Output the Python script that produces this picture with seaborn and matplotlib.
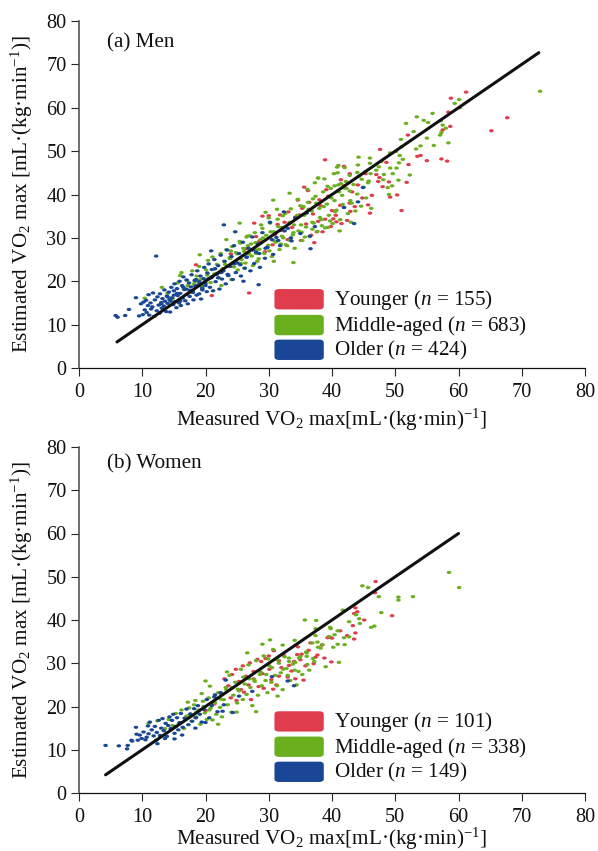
import matplotlib
matplotlib.use('Agg')
import matplotlib.pyplot as plt
import matplotlib.path as mpath
import matplotlib.transforms as mtrans
from matplotlib.patches import FancyBboxPatch
import pandas as pd
import seaborn as sns


# values, one list per age group and panel
men_younger_x = [38.9,26.9,21.0,18.5,34.6,29.0,30.0,27.7,31.8,32.5,
    33.1,33.7,34.2,31.0,31.4,32.0,35.3,35.9,36.4,37.0,
    37.6,38.2,38.9,39.4,40.0,40.7,41.3,41.9,42.8,45.3,
    47.0,47.5,47.3,49.0,51.8,41.4,44.1,48.0,50.3,49.2,
    46.3,51.0,45.7,46.0,42.4,41.5,38.5,42.9,61.2,58.8,
    58.4,67.7,65.2,58.7,57.5,52.0,47.6,54.0,53.5,55.0,
    57.3,58.2,48.6,52.1,41.9,42.8,28.5,29.4,30.6,33.0,
    24.0,25.2,26.4,22.8,36.7,39.8,37.2,35.1,40.6,43.2,
    39.1,36.2,34.9,38.0,40.2,44.8,37.8,43.6,35.6,28.0]
men_younger_y = [48.0,17.3,16.7,23.8,38.7,35.0,35.1,33.4,35.3,33.6,
    36.0,32.4,34.8,30.8,33.1,31.7,36.8,33.2,38.2,35.5,
    31.4,37.4,34.3,39.6,36.3,33.7,37.5,46.5,44.8,44.8,
    44.6,43.9,43.0,42.9,42.8,43.4,42.2,41.8,39.9,39.4,
    39.8,36.3,37.6,35.7,34.0,33.3,31.4,36.1,63.6,62.2,
    59.0,57.7,54.7,55.7,54.9,53.7,50.4,49.0,48.8,47.8,
    48.2,47.7,47.4,46.9,42.0,38.0,29.2,26.8,28.4,29.6,
    26.3,24.2,27.5,22.4,30.6,32.6,28.9,29.4,35.2,40.6,
    41.1,40.9,35.3,38.8,34.4,39.2,33.8,37.2,41.7,30.3]

men_middle_x = [10.4,13.1,16.2,19.1,23.3,25.4,30.7,33.3,37.8,33.9,
    30.8,14.0,14.8,15.6,16.0,16.6,17.1,17.5,17.9,18.2,
    18.6,19.0,19.4,19.8,20.1,20.4,20.8,21.1,21.4,21.8,
    22.1,22.4,22.7,23.0,23.3,23.6,23.9,24.2,24.5,24.8,
    25.1,25.4,25.7,26.0,26.3,26.6,26.9,27.2,27.5,27.8,
    28.1,28.4,28.7,29.0,29.3,29.6,29.9,30.2,30.5,30.8,
    31.1,31.4,31.7,32.0,32.3,32.6,32.9,33.2,33.5,33.8,
    34.1,34.4,34.7,35.0,35.3,35.6,35.9,36.2,36.5,36.8,
    37.1,37.4,37.7,38.0,38.3,38.6,38.9,39.2,39.5,39.8,
    40.1,40.4,40.7,41.0,41.3,41.6,41.9,42.2,42.5,42.8,
    43.1,43.4,43.7,44.0,44.3,44.6,45.0,45.4,45.8,46.2,
    72.9,60.1,59.4,60.2,55.9,53.4,54.5,55.2,51.7,57.2,
    57.5,58.0,57.3,57.1,52.9,50.9,55.0,58.4,56.1,54.0,
    53.3,51.0,50.1,49.2,50.7,51.2,50.6,50.2,49.2,49.6,
    52.3,50.5,49.5,48.8,49.0,44.2,46.0,44.1,46.0,47.4,
    47.8,41.0,42.0,40.8,40.3,40.9,42.8,44.0,45.3,46.1,
    47.0,48.2,48.1,45.7,44.7,37.8,38.8,39.3,41.4,41.9,
    40.4,22.5,24.1,26.2,28.2,30.1,31.9,33.4,35.2,36.9,
    38.4,39.7,27.0,29.5,31.3,34.6,36.1,37.3,43.0,41.2,
    21.5,22.3,23.1,23.8,24.4,25.0,25.6,26.1,26.7,27.3,
    27.9,28.5,29.1,29.7,30.3,30.9,31.5,32.1,32.7,33.3,
    33.9,34.5,35.1,35.7,36.3,36.9,37.5,38.1,38.7,39.3,
    39.9,40.5,41.1,41.7,42.3,42.9,20.3,19.2,18.3,17.2,
    24.0,26.5,28.8,30.0,32.2,34.0,35.5,37.0,28.0,25.5]
men_middle_y = [16.1,18.6,22.0,26.1,29.6,33.4,38.7,40.3,43.8,24.3,
    24.6,17.2,16.0,19.6,21.3,18.1,20.2,17.4,22.4,19.3,
    21.2,23.4,18.8,20.5,22.6,24.8,19.7,25.6,21.7,23.9,
    20.8,26.4,22.9,24.6,27.3,21.4,25.2,28.0,23.3,26.6,
    22.6,29.2,25.0,27.6,24.2,30.4,26.3,28.6,23.6,31.2,
    27.2,25.2,29.6,32.2,26.4,30.6,28.3,33.4,25.7,31.4,
    29.0,34.3,27.3,32.4,30.0,35.6,28.2,33.2,36.7,30.7,
    27.6,34.6,31.6,37.4,29.4,35.2,32.5,38.2,30.3,36.2,
    33.4,39.6,31.5,36.8,34.2,40.6,32.3,37.8,35.2,41.4,
    33.3,38.6,36.4,42.2,34.2,39.8,37.0,43.0,35.6,40.8,
    38.0,42.3,36.2,40.1,44.2,37.3,41.7,39.2,43.1,36.8,
    63.8,61.9,61.0,60.0,58.7,57.9,57.1,56.6,56.4,57.0,
    56.0,55.3,54.3,53.7,54.5,52.7,53.0,51.9,51.3,51.2,
    50.5,51.0,49.9,49.6,49.0,48.1,47.3,46.1,46.1,44.8,
    44.5,43.3,42.0,41.6,40.0,48.6,48.4,46.8,47.2,46.4,
    47.6,46.7,46.2,46.3,44.8,45.0,44.4,45.1,45.3,44.8,
    45.6,44.6,43.4,42.7,43.5,43.8,43.6,41.9,42.5,41.5,
    42.0,19.0,20.4,23.0,24.6,27.0,28.6,29.4,31.3,32.0,
    32.8,33.9,30.5,35.9,36.6,38.9,41.2,42.7,33.6,31.6,
    22.8,22.0,23.9,25.4,24.3,26.3,24.1,26.9,28.2,25.8,
    28.9,27.4,30.0,27.8,31.4,29.3,32.6,30.4,28.4,33.6,
    31.2,35.2,33.0,30.2,36.6,33.6,38.0,34.7,37.2,32.4,
    39.2,36.0,40.6,37.7,41.4,38.6,21.4,20.4,19.9,19.0,
    27.0,30.2,33.0,34.6,35.1,33.0,37.2,39.0,26.4,28.8]

men_older_x = [5.8,6.1,7.3,7.9,9.0,9.5,9.8,10.1,10.2,10.4,
    10.6,10.7,10.9,11.0,11.1,11.3,11.4,11.6,11.7,11.9,
    12.0,12.2,12.3,12.4,12.6,12.7,12.8,13.0,13.1,13.2,
    13.4,13.5,13.6,13.8,13.9,14.0,14.2,14.3,14.4,14.6,
    14.7,14.9,15.0,15.1,15.2,15.4,15.5,15.6,15.8,15.9,
    16.0,16.1,16.3,16.4,16.5,16.7,16.8,17.0,17.1,17.2,
    17.4,17.5,17.7,17.8,18.0,18.1,18.3,18.4,18.6,18.7,
    18.9,19.0,19.2,19.3,19.5,19.7,19.8,20.0,20.2,20.3,
    20.5,20.7,20.9,21.0,21.2,21.4,21.6,21.8,22.0,22.2,
    22.4,22.6,22.8,23.0,23.2,23.4,23.6,23.9,24.1,24.3,
    24.5,24.8,25.0,25.3,25.6,25.9,26.2,26.5,26.8,27.1,
    27.4,27.7,28.0,28.3,28.6,29.0,29.4,29.8,30.2,30.7,
    31.2,31.8,32.4,33.0,33.6,34.2,35.0,36.0,36.6,37.3,
    36.5,41.9,43.5,44.1,44.9,28.4,26.0,24.7,22.9,20.9,
    13.0,14.0,15.0,16.0,17.0,18.0,19.0,20.0,21.0,22.0,
    14.5,15.5,16.5,17.5,18.5,19.5,20.5,21.5,22.5,23.5,
    24.5,25.5,26.5,27.5,28.5,29.5,30.5,31.5,32.5,33.5]
men_older_y = [12.1,11.7,12.1,13.5,16.2,12.0,14.8,12.3,15.2,13.4,
    15.6,12.8,14.4,16.9,12.2,15.0,13.6,14.1,17.3,11.9,
    15.7,25.8,13.2,16.4,14.5,12.6,17.1,15.1,13.8,16.0,
    14.3,18.0,15.4,13.0,16.6,14.9,17.5,15.8,12.9,18.6,
    16.2,14.6,17.8,19.4,15.3,13.9,18.3,16.7,15.0,20.0,
    17.2,14.4,19.0,16.1,21.0,18.1,15.5,20.3,17.0,14.8,
    19.6,16.5,18.7,21.5,17.4,15.7,20.2,18.9,16.8,22.4,
    19.2,17.1,21.2,15.9,18.4,20.6,23.2,19.5,17.6,21.9,
    24.0,18.6,20.8,22.7,17.8,25.0,19.9,21.6,23.6,18.2,
    26.0,20.5,22.4,24.6,19.4,27.2,21.3,23.4,25.7,20.4,
    28.2,22.0,24.2,26.4,21.2,29.0,23.0,25.5,27.6,22.4,
    30.2,24.1,26.7,28.6,23.2,31.2,25.3,27.8,33.6,26.2,
    30.1,28.2,36.0,32.2,29.3,34.6,31.0,35.7,27.5,32.6,
    30.4,37.0,33.3,38.3,41.6,19.2,20.0,31.4,33.0,27.0,
    14.8,16.4,16.8,15.4,18.2,17.8,19.9,19.0,21.0,20.8,
    15.4,17.2,18.6,17.9,20.4,18.0,20.6,22.9,22.0,21.6,
    24.0,23.8,25.6,27.2,26.4,27.6,29.6,29.4,31.6,30.0]

women_younger_x = [46.9,43.7,44.0,43.5,46.8,45.1,49.5,43.3,43.7,43.5,
    36.6,39.9,39.7,39.3,40.0,34.6,35.2,34.5,37.7,37.1,
    35.5,33.0,32.4,31.6,30.8,30.1,29.5,28.8,28.2,27.6,
    27.0,26.4,25.9,25.3,24.8,24.2,23.6,23.0,22.5,29.2,
    30.4,31.2,32.0,33.6,34.0,35.8,36.3,37.4,38.4,41.3,
    26.1,26.8,27.6,28.4,29.0,30.0,24.9,25.6,31.6,33.2,
    34.2,18.4,20.0,21.4,35.0,38.8,42.4,24.0,27.2,30.7]
women_younger_y = [48.9,42.8,41.9,41.5,46.3,40.0,41.0,38.7,37.0,35.6,
    34.7,30.3,36.0,35.9,35.8,33.8,32.1,32.0,31.9,29.9,
    26.1,26.8,31.8,30.6,32.9,28.6,31.1,30.4,30.9,28.1,
    30.1,27.0,29.4,25.8,28.6,27.4,24.8,26.4,22.9,24.2,
    26.2,25.0,29.0,28.2,30.4,29.4,33.0,31.4,34.2,37.5,
    23.3,25.0,26.4,24.6,27.6,31.7,21.4,23.9,27.0,29.5,
    26.4,17.4,19.0,20.6,30.8,31.2,36.4,22.0,21.6,24.0]

women_middle_x = [58.5,60.1,44.8,45.7,47.4,50.5,50.5,52.8,35.7,37.5,
    41.7,47.8,42.7,43.8,44.3,44.4,46.7,46.2,39.7,39.8,
    37.4,37.4,40.9,40.4,39.5,41.9,42.7,37.7,36.9,34.1,
    40.9,42.0,40.2,38.5,37.8,29.0,32.2,36.0,36.0,33.2,
    37.0,36.1,34.2,41.1,34.7,33.0,29.9,11.0,12.4,13.6,
    14.2,14.8,15.3,15.8,16.2,16.6,17.0,17.4,17.8,18.2,
    18.5,18.9,19.2,19.6,19.9,20.2,20.5,20.8,21.1,21.4,
    21.7,22.0,22.3,22.6,22.9,23.2,23.5,23.8,24.1,24.4,
    24.7,25.0,25.3,25.6,25.9,26.2,26.5,26.8,27.1,27.4,
    27.7,28.0,28.3,28.6,28.9,29.2,29.5,29.8,30.1,30.4,
    30.7,31.0,31.3,31.6,31.9,32.2,32.5,32.8,33.4,33.8,
    34.4,34.8,35.3,35.9,36.4,37.2,38.2,39.0,24.9,22.0,
    18.4,19.4,20.7,26.6,28.0,30.2,31.4,20.0,17.2,23.4,
    17.5,18.6,19.7,20.6,21.5,22.4,23.3,24.2,25.1,26.0,
    26.9,27.8,28.7,29.6,30.5,31.4,32.3,33.2,34.1,35.0]
women_middle_y = [51.0,47.5,47.9,47.5,45.4,45.3,44.6,45.4,40.0,39.9,
    42.3,41.7,39.6,41.2,40.3,39.2,38.6,38.3,38.3,38.0,
    38.0,36.4,37.5,36.6,36.2,35.9,36.1,34.9,34.7,35.3,
    34.4,34.3,33.7,34.3,33.7,34.4,34.2,32.4,31.6,31.2,
    31.1,29.7,30.2,30.2,28.1,27.2,31.0,16.1,16.7,14.9,
    17.0,15.6,18.4,16.0,19.2,14.9,17.8,19.7,16.6,20.4,
    17.6,19.2,15.9,21.2,18.5,17.0,22.0,19.6,16.9,20.9,
    18.2,23.2,19.8,17.6,21.6,24.4,20.4,27.2,18.7,22.6,
    25.6,20.8,23.6,28.6,21.6,25.2,22.8,29.6,24.4,20.2,
    26.2,30.6,22.6,27.4,24.8,31.7,26.0,23.2,29.4,25.6,
    33.2,27.2,24.8,30.0,27.8,23.9,31.5,28.8,26.0,29.8,
    25.0,31.2,27.4,32.6,28.4,30.4,33.5,29.2,18.7,15.9,
    21.4,23.0,24.7,32.4,18.8,35.4,22.4,25.9,21.0,28.0,
    18.0,18.7,20.0,19.2,20.9,21.7,23.9,24.4,24.0,26.8,
    26.4,25.8,28.0,27.4,29.0,30.8,28.6,30.4,28.4,31.6]

women_older_x = [4.2,6.3,7.7,7.6,8.3,8.4,9.3,10.5,9.0,9.1,
    10.9,12.4,12.2,13.6,15.1,16.3,18.4,20.0,24.3,22.7,
    22.9,25.3,27.4,23.2,30.5,21.5,9.6,9.9,10.2,10.7,
    11.0,11.2,11.5,11.8,12.0,12.3,12.6,12.8,13.0,13.2,
    13.4,13.7,13.9,14.1,14.3,14.5,14.7,14.9,15.1,15.3,
    15.5,15.7,15.9,16.1,16.4,16.7,17.0,17.3,17.6,17.9,
    18.2,18.5,18.8,19.1,19.4,19.8,20.2,20.6,21.0,21.4,
    21.9,22.4,34.0,33.0]
women_older_y = [11.0,10.9,11.0,10.2,12.2,12.0,12.2,12.3,15.2,13.6,
    15.5,11.4,12.2,12.6,12.5,13.4,15.0,16.3,18.6,18.9,
    20.4,22.4,23.5,26.1,26.9,22.7,13.4,12.6,14.1,12.9,
    13.7,16.4,14.6,13.2,15.4,14.0,16.8,13.3,15.0,17.2,
    14.4,16.1,13.1,15.6,17.6,14.9,16.8,18.2,13.8,15.4,
    17.4,14.6,16.3,18.4,15.2,17.3,19.4,15.8,18.3,16.6,
    19.5,17.4,20.2,18.2,16.4,19.3,21.6,17.4,20.2,22.2,
    18.8,23.2,24.8,25.9]

GROUPS = ['Younger', 'Middle-aged', 'Older']
COLORS = {'Younger': '#DF3D4E', 'Middle-aged': '#6AB01E', 'Older': '#1A4795'}
TICKS = [0, 10, 20, 30, 40, 50, 60, 70, 80]
XLABEL = 'Measured VO$_2$ max[mL·(kg·min)$^{-1}$]'
YLABEL = 'Estimated VO$_2$ max [mL·(kg·min$^{-1}$)]'

men_n = [155, 683, 424]
women_n = [101, 338, 149]
men_line = [6, 72.7]
women_line = [4.2, 60]


def draw_panel(ax, title, title_y, xpad, younger, middle, older, counts, line, legend_y):
    # long table, younger first so the older group ends up on top
    frames = []
    for group, (x, y) in zip(GROUPS, [younger, middle, older]):
        frames.append(pd.DataFrame({'x': x, 'y': y, 'group': group}))
    df = pd.concat(frames, ignore_index=True)

    # dots in the figure are a bit flattened
    dot = mpath.Path.unit_circle().transformed(mtrans.Affine2D().scale(1, 0.7))
    sns.scatterplot(data=df, x='x', y='y', hue='group', palette=COLORS, marker=dot,
                    s=11, linewidth=0, legend=False, ax=ax)
    sns.lineplot(x=line, y=line, color='#111111', linewidth=2.2, ax=ax,
                 errorbar=None, sort=False)

    ax.set_xlim(0, 80)
    ax.set_ylim(0, 80)
    ax.set_xticks(TICKS)
    ax.set_yticks(TICKS)
    ax.set_xlabel(XLABEL, labelpad=xpad)
    ax.set_ylabel(YLABEL, labelpad=8)
    ax.tick_params(direction='out', length=5.5, width=0.8, labelcolor='#111111')
    ax.tick_params(axis='x', pad=5.5)
    ax.tick_params(axis='y', pad=3.5)
    ax.text(4.4, title_y, title, va='center', ha='left', color='#111111')

    # hand made legend, rounded boxes like the original
    for group, n, yc in zip(GROUPS, counts, legend_y):
        ax.add_patch(FancyBboxPatch((31.4, yc - 1.85), 6.8, 3.7,
                                    boxstyle='round,pad=0.5,rounding_size=0.7',
                                    facecolor=COLORS[group], edgecolor='none'))
        ax.text(40.3, yc - 0.2, group + ' ($n$ = ' + str(n) + ')', va='center', ha='left', color='#111111')
    sns.despine(ax=ax)
    ax.spines['left'].set_color('#555555')
    ax.spines['left'].set_linewidth(1.2)
    ax.spines['bottom'].set_color('#111111')


if __name__ == "__main__":
    sns.set_theme(style='ticks')
    plt.rcParams['font.family'] = ['Liberation Serif', 'DejaVu Serif']
    plt.rcParams['mathtext.fontset'] = 'custom'
    plt.rcParams['mathtext.rm'] = 'Liberation Serif'
    plt.rcParams['mathtext.it'] = 'Liberation Serif:italic'
    plt.rcParams['mathtext.bf'] = 'Liberation Serif:bold'
    plt.rcParams['font.size'] = 15.2
    plt.rcParams['axes.labelsize'] = 15.2
    plt.rcParams['axes.labelcolor'] = '#111111'
    plt.rcParams['xtick.labelsize'] = 14.6
    plt.rcParams['ytick.labelsize'] = 14.6
    plt.rcParams['axes.linewidth'] = 0.9

    W, H = 598, 851
    fig = plt.figure(figsize=(W / 100, H / 100), dpi=100)
    ax1 = fig.add_axes([79 / W, 1 - 368 / H, 506 / W, 347 / H])
    ax2 = fig.add_axes([79 / W, 1 - 793 / H, 506 / W, 346 / H])

    draw_panel(ax1, '(a) Men', 75.0, 3, (men_younger_x, men_younger_y), (men_middle_x, men_middle_y),
               (men_older_x, men_older_y), men_n, men_line, [15.85, 9.9, 4.2])
    draw_panel(ax2, '(b) Women', 76.2, -1, (women_younger_x, women_younger_y), (women_middle_x, women_middle_y),
               (women_older_x, women_older_y), women_n, women_line, [16.55, 10.7, 4.9])

    fig.savefig('out.png', dpi=100)
